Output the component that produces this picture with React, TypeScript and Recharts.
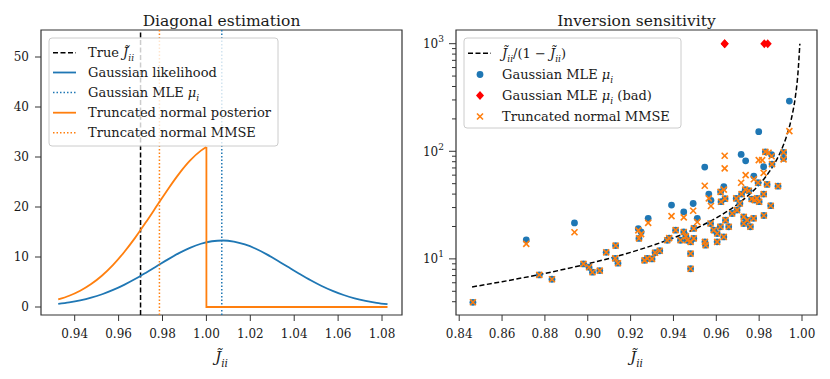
import React from 'react';
import {
  LineChart,
  ComposedChart,
  Line,
  Scatter,
  XAxis,
  YAxis,
  ReferenceLine,
  ReferenceArea,
} from 'recharts';

const FONT = '"DejaVu Serif", serif';
const FRAME = '#333333';
const TEXT = '#1a1a1a';
const BLUE = '#1f77b4';
const ORANGE = '#ff7f0e';
const RED = '#ff0000';

// ---------------- Left panel: Diagonal estimation ----------------
const gaussX = [
  0.9325, 0.9375, 0.9425, 0.9475, 0.9525, 0.9575, 0.9625, 0.9675, 0.9725, 0.9775,
  0.9825, 0.9875, 0.9925, 0.9975, 1.0025, 1.0075, 1.0125, 1.0175, 1.0225, 1.0275,
  1.0325, 1.0375, 1.0425, 1.0475, 1.0525, 1.0575, 1.0625, 1.0675, 1.0725, 1.0775, 1.0825,
];
const gaussY = [
  0.61, 0.91, 1.32, 1.86, 2.55, 3.41, 4.43, 5.59, 6.87, 8.2,
  9.53, 10.77, 11.83, 12.65, 13.15, 13.3, 13.08, 12.51, 11.64, 10.53,
  9.27, 7.93, 6.61, 5.35, 4.21, 3.23, 2.4, 1.74, 1.23, 0.84, 0.56,
];
const posteriorX = [
  0.9325, 0.9375, 0.9425, 0.9475, 0.9525, 0.9575, 0.9625, 0.9675, 0.9725, 0.9775,
  0.9825, 0.9875, 0.9925, 0.9975, 1.0,
];
const posteriorY = [
  1.51, 2.25, 3.26, 4.6, 6.31, 8.43, 10.96, 13.82, 16.99, 20.28,
  23.57, 26.63, 29.26, 31.28, 32.0,
];
const tailX = [1.0, 1.0, 1.0825];
const tailY = [32.0, 0, 0];
const trueJ = 0.97;
const gaussianMLE = 1.007;
const truncatedMMSE = 0.9786;
const leftXTicks = [0.94, 0.96, 0.98, 1.0, 1.02, 1.04, 1.06, 1.08];
const leftYTicks = [0, 10, 20, 30, 40, 50];
const leftXDomain = [0.92465, 1.0891];
const leftYDomain = [-1.6, 55.4];

// ---------------- Right panel: Inversion sensitivity ----------------
const curveX = [
  0.846, 0.86, 0.87, 0.88, 0.89, 0.9, 0.91, 0.92, 0.93, 0.94, 0.95, 0.96, 0.97,
  0.975, 0.98, 0.985, 0.99, 0.993, 0.995, 0.997, 0.998, 0.999,
];
const curveY = [
  5.49, 6.14, 6.69, 7.33, 8.09, 9.0, 10.11, 11.5, 13.29, 15.67, 19.0, 24.0, 32.3,
  39.0, 49.0, 65.7, 99.0, 141.9, 199.0, 332.0, 499.0, 999.0,
];

const pointJ = [
  0.8464, 0.8713, 0.8774, 0.8833, 0.8938, 0.898, 0.9006, 0.9022, 0.9056, 0.9086,
  0.9128, 0.913, 0.9141, 0.9236, 0.9239, 0.9249, 0.9265, 0.9278, 0.9282, 0.93,
  0.9314, 0.9336, 0.9371, 0.938, 0.9391, 0.941, 0.9433, 0.9448, 0.9448, 0.9458,
  0.9464, 0.948, 0.948, 0.948, 0.9492, 0.9495, 0.9495, 0.9511, 0.9547, 0.955,
  0.9546, 0.9565, 0.9573, 0.9575, 0.9588, 0.9604, 0.9604, 0.9619, 0.962, 0.9622,
  0.9635, 0.9635, 0.9641, 0.9643, 0.9658, 0.9674, 0.9693, 0.9697, 0.971, 0.9716,
  0.9718, 0.9728, 0.9728, 0.9735, 0.9737, 0.9744, 0.9752, 0.9759, 0.9765, 0.9774,
  0.9775, 0.9779, 0.979, 0.9795, 0.9798, 0.98, 0.9821, 0.9821, 0.9822, 0.9829,
  0.9837, 0.9854, 0.9858, 0.986, 0.9888, 0.9914, 0.9914, 0.9941,
  0.9639, 0.9639, 0.9814, 0.9844,
];
const mleValues = [
  3.95, 15.0, 7.1, 6.47, 21.6, 8.98, 8.36, 7.52, 7.78, 11.5,
  10.1, 13.3, 9.12, 19.1, 15.5, 17.8, 9.7, 10.1, 23.8, 10.0,
  11.4, 11.9, 14.9, 15.6, 31.6, 18.5, 14.9, 17.8, 27.3, 16.2,
  14.9, 14.4, 11.2, 8.1, 32.7, 15.5, 19.2, 23.8, 14.4, 13.4,
  71.3, 40.0, 21.3, 35.0, 18.5, 17.2, 14.4, 19.9, 42.0, 34.0,
  16.0, 46.8, 36.3, 22.9, 19.9, 26.4, 36.5, 28.4, 32.7, 93.5,
  40.0, 24.6, 21.3, 44.0, 81.6, 22.9, 43.0, 19.9, 36.0, 23.8,
  58.8, 35.2, 36.5, 51.0, 152.0, 34.0, 71.8, 40.0, 25.3, 98.8,
  49.2, 31.2, 93.0, 76.0, 47.4, 97.8, 86.0, 293.0,
  null, null, null, null,
];
const mmseValues = [
  3.95, 13.8, 7.1, 6.47, 17.7, 8.98, 8.36, 7.52, 7.78, 11.5,
  10.1, 13.3, 9.12, 18.4, 15.5, 17.0, 9.7, 10.1, 21.6, 10.0,
  11.4, 11.9, 14.9, 15.6, 25.0, 18.5, 14.9, 17.8, 24.3, 16.2,
  14.9, 14.4, 11.2, 8.1, 28.0, 15.5, 19.2, 22.0, 14.4, 13.4,
  47.8, 36.5, 21.3, 31.0, 18.5, 17.2, 14.4, 19.9, 42.0, 34.0,
  16.0, 44.0, 36.3, 22.9, 19.9, 26.4, 36.5, 28.4, 32.7, 51.0,
  40.0, 24.6, 21.3, 44.0, 60.0, 22.9, 43.0, 19.9, 36.0, 23.8,
  55.0, 35.2, 36.5, 51.0, 82.8, 34.0, 63.0, 40.0, 25.3, 98.8,
  49.2, 31.2, 90.0, 76.0, 47.4, 97.8, 84.0, 154.0,
  90.8, 69.3, 82.8, 97.0,
];
const badJ = [0.9639, 0.9639, 0.9824, 0.984];
const badValues = [1000, 1000, 1000, 1000];

const rightXTicks = [0.84, 0.86, 0.88, 0.9, 0.92, 0.94, 0.96, 0.98, 1.0];
const rightYMajor = [10, 100, 1000];
const rightYMinor = [4, 5, 6, 7, 8, 9, 20, 30, 40, 50, 60, 70, 80, 90, 200, 300, 400, 500, 600, 700, 800, 900];
const rightXDomain = [0.8385, 1.007];
const rightYDomain = [3.01, 1340];

// ---------------- built tables ----------------
const gaussData = gaussX.map((x, i) => ({ x, y: gaussY[i] }));
const posteriorData = posteriorX.map((x, i) => ({ x, y: posteriorY[i] }));
const tailData = tailX.map((x, i) => ({ x, y: tailY[i] }));
const curveData = curveX.map((x, i) => ({ x, y: curveY[i] }));
const mleData = pointJ
  .map((x, i) => ({ x, y: mleValues[i] }))
  .filter((d) => d.y !== null);
const mmseData = pointJ.map((x, i) => ({ x, y: mmseValues[i] }));
const badData = badJ.map((x, i) => ({ x, y: badValues[i] }));
const rightYTicks = [...rightYMajor, ...rightYMinor].sort((a, b) => a - b);

const tickStyle = { fontSize: 12, fontFamily: FONT, fill: TEXT };
const margin = { top: 30, right: 13, left: 5, bottom: 34 };

const BlueDot = (p: any) => <circle cx={p.cx} cy={p.cy} r={3.4} fill={BLUE} />;
const OrangeX = (p: any) => (
  <g stroke={ORANGE} strokeWidth={1.6}>
    <line x1={p.cx - 3} y1={p.cy - 3} x2={p.cx + 3} y2={p.cy + 3} />
    <line x1={p.cx - 3} y1={p.cy + 3} x2={p.cx + 3} y2={p.cy - 3} />
  </g>
);
const RedDiamond = (p: any) => (
  <polygon
    points={`${p.cx},${p.cy - 4.5} ${p.cx + 4} ${p.cy} ${p.cx},${p.cy + 4.5} ${p.cx - 4},${p.cy}`.replace(' ' + (p.cx + 4) + ' ', ' ' + (p.cx + 4) + ',')}
    fill={RED}
  />
);

const LogTick = (props: any) => {
  const { x, y, payload } = props;
  const v = payload.value;
  const major = rightYMajor.includes(v);
  const len = major ? 7 : 4;
  const exp = Math.round(Math.log10(v));
  return (
    <g>
      <line x1={x} x2={x - len} y1={y} y2={y} stroke={FRAME} strokeWidth={1} />
      {major && (
        <text x={x - len - 5} y={y + 4.5} textAnchor="end" fontSize={12} fontFamily={FONT} fill={TEXT}>
          10
          <tspan dy={-6} fontSize={9}>{exp}</tspan>
        </text>
      )}
    </g>
  );
};

// J-tilde with subscript ii, as tspans
const jii = (size: number, key: string) => [
  <tspan key={key + 'J'} fontStyle="italic">{'J\u0303'}</tspan>,
  <tspan key={key + 's'} fontStyle="italic" fontSize={size * 0.7} dy={size * 0.3}>ii</tspan>,
];

const Overlay = () => {
  const ls = 13;
  const leftRows = [52.7, 72.5, 92.5, 112.7, 132.7];
  const rightRows = [53.3, 74.5, 95.5, 116.5];
  return (
    <svg
      width={830}
      height={379}
      style={{ position: 'absolute', left: 0, top: 0, pointerEvents: 'none' }}
      fontFamily={FONT}
    >
      {/* titles */}
      <text x={221.5} y={26} textAnchor="middle" fontSize={15.5} fill={TEXT}>Diagonal estimation</text>
      <text x={636.5} y={26} textAnchor="middle" fontSize={15.5} fill={TEXT}>Inversion sensitivity</text>
      {/* x labels */}
      <text x={221.5} y={362} textAnchor="middle" fontSize={15} fill={TEXT}>{jii(15, 'l')}</text>
      <text x={636.5} y={362} textAnchor="middle" fontSize={15} fill={TEXT}>{jii(15, 'r')}</text>

      {/* left legend */}
      <rect x={49} y={38} width={229} height={108} rx={3} fill="#ffffff" fillOpacity={0.8} stroke="#cccccc" />
      <line x1={53} x2={76} y1={leftRows[0]} y2={leftRows[0]} stroke="#000" strokeWidth={1.5} strokeDasharray="5 2.5" />
      <line x1={53} x2={76} y1={leftRows[1]} y2={leftRows[1]} stroke={BLUE} strokeWidth={1.8} />
      <line x1={53} x2={76} y1={leftRows[2]} y2={leftRows[2]} stroke={BLUE} strokeWidth={1.5} strokeDasharray="1.5 2" />
      <line x1={53} x2={76} y1={leftRows[3]} y2={leftRows[3]} stroke={ORANGE} strokeWidth={1.8} />
      <line x1={53} x2={76} y1={leftRows[4]} y2={leftRows[4]} stroke={ORANGE} strokeWidth={1.5} strokeDasharray="1.5 2" />
      <text x={88} y={leftRows[0] + 4.5} fontSize={ls} fill={TEXT}>
        {'True '}
        {jii(ls, 'a')}
      </text>
      <text x={88} y={leftRows[1] + 4.5} fontSize={ls} fill={TEXT}>Gaussian likelihood</text>
      <text x={88} y={leftRows[2] + 4.5} fontSize={ls} fill={TEXT}>
        {'Gaussian MLE '}
        <tspan fontStyle="italic">μ</tspan>
        <tspan fontStyle="italic" fontSize={ls * 0.7} dy={ls * 0.3}>i</tspan>
      </text>
      <text x={88} y={leftRows[3] + 4.5} fontSize={ls} fill={TEXT}>Truncated normal posterior</text>
      <text x={88} y={leftRows[4] + 4.5} fontSize={ls} fill={TEXT}>Truncated normal MMSE</text>

      {/* right legend */}
      <rect x={464} y={38} width={217} height={90} rx={3} fill="#ffffff" fillOpacity={0.8} stroke="#cccccc" />
      <line x1={468} x2={491} y1={rightRows[0]} y2={rightRows[0]} stroke="#000" strokeWidth={1.5} strokeDasharray="5 2.5" />
      <circle cx={480} cy={rightRows[1]} r={3.4} fill={BLUE} />
      <polygon points={`480,${rightRows[2] - 4.5} 484,${rightRows[2]} 480,${rightRows[2] + 4.5} 476,${rightRows[2]}`} fill={RED} />
      <g stroke={ORANGE} strokeWidth={1.6}>
        <line x1={477} y1={rightRows[3] - 3} x2={483} y2={rightRows[3] + 3} />
        <line x1={477} y1={rightRows[3] + 3} x2={483} y2={rightRows[3] - 3} />
      </g>
      <text x={502} y={rightRows[0] + 4.5} fontSize={ls} fill={TEXT}>
        {jii(ls, 'b')}
        <tspan dy={-ls * 0.3}>{'/(1 \u2212 '}</tspan>
        {jii(ls, 'c')}
        <tspan dy={-ls * 0.3}>)</tspan>
      </text>
      <text x={502} y={rightRows[1] + 4.5} fontSize={ls} fill={TEXT}>
        {'Gaussian MLE '}
        <tspan fontStyle="italic">μ</tspan>
        <tspan fontStyle="italic" fontSize={ls * 0.7} dy={ls * 0.3}>i</tspan>
      </text>
      <text x={502} y={rightRows[2] + 4.5} fontSize={ls} fill={TEXT}>
        {'Gaussian MLE '}
        <tspan fontStyle="italic">μ</tspan>
        <tspan fontStyle="italic" fontSize={ls * 0.7} dy={ls * 0.3}>i</tspan>
        <tspan dy={-ls * 0.3}>{' (bad)'}</tspan>
      </text>
      <text x={502} y={rightRows[3] + 4.5} fontSize={ls} fill={TEXT}>Truncated normal MMSE</text>
    </svg>
  );
};

export default function App() {
  return (
    <div style={{ position: 'absolute', left: 0, top: 0, width: 830, height: 379, background: '#fff' }}>
      <div style={{ position: 'absolute', left: 0, top: 0 }}>
        <LineChart width={415} height={379} margin={margin}>
          <XAxis
            type="number"
            dataKey="x"
            domain={leftXDomain}
            allowDataOverflow
            ticks={leftXTicks}
            interval={0}
            tickFormatter={(v: number) => v.toFixed(2)}
            tick={tickStyle}
            tickSize={6}
            tickMargin={8}
            tickLine={{ stroke: FRAME }}
            axisLine={false}
            height={30}
          />
          <YAxis
            type="number"
            dataKey="y"
            domain={leftYDomain}
            allowDataOverflow
            ticks={leftYTicks}
            interval={0}
            tick={tickStyle}
            tickSize={6}
            tickMargin={6}
            tickLine={{ stroke: FRAME }}
            axisLine={false}
            width={36}
          />
          <ReferenceArea
            x1={leftXDomain[0]}
            x2={leftXDomain[1]}
            y1={leftYDomain[0]}
            y2={leftYDomain[1]}
            fill="none"
            fillOpacity={0}
            stroke={FRAME}
            strokeWidth={1.2}
          />
          <ReferenceLine x={trueJ} stroke="#000" strokeWidth={1.5} strokeDasharray="5 2.5" />
          <Line data={gaussData} dataKey="y" type="monotone" stroke={BLUE} strokeWidth={1.8} dot={false} activeDot={false} isAnimationActive={false} />
          <ReferenceLine x={gaussianMLE} stroke={BLUE} strokeWidth={1.5} strokeDasharray="1.5 2" />
          <Line data={posteriorData} dataKey="y" type="monotone" stroke={ORANGE} strokeWidth={1.8} dot={false} activeDot={false} isAnimationActive={false} />
          <Line data={tailData} dataKey="y" type="linear" stroke={ORANGE} strokeWidth={1.8} dot={false} activeDot={false} isAnimationActive={false} />
          <ReferenceLine x={truncatedMMSE} stroke={ORANGE} strokeWidth={1.5} strokeDasharray="1.5 2" />
        </LineChart>
      </div>
      <div style={{ position: 'absolute', left: 415, top: 0 }}>
        <ComposedChart width={415} height={379} margin={margin}>
          <XAxis
            type="number"
            dataKey="x"
            domain={rightXDomain}
            allowDataOverflow
            ticks={rightXTicks}
            interval={0}
            tickFormatter={(v: number) => v.toFixed(2)}
            tick={tickStyle}
            tickSize={6}
            tickMargin={8}
            tickLine={{ stroke: FRAME }}
            axisLine={false}
            height={30}
          />
          <YAxis
            type="number"
            dataKey="y"
            scale="log"
            domain={rightYDomain}
            allowDataOverflow
            ticks={rightYTicks}
            interval={0}
            tick={<LogTick />}
            tickSize={0}
            tickMargin={0}
            tickLine={false}
            axisLine={false}
            width={36}
          />
          <ReferenceArea
            x1={rightXDomain[0]}
            x2={rightXDomain[1]}
            y1={rightYDomain[0]}
            y2={rightYDomain[1]}
            fill="none"
            fillOpacity={0}
            stroke={FRAME}
            strokeWidth={1.2}
          />
          <Scatter data={mleData} dataKey="y" shape={BlueDot} isAnimationActive={false} />
          <Scatter data={badData} dataKey="y" shape={RedDiamond} isAnimationActive={false} />
          <Scatter data={mmseData} dataKey="y" shape={OrangeX} isAnimationActive={false} />
          <Line data={curveData} dataKey="y" type="monotone" stroke="#000" strokeWidth={1.5} strokeDasharray="5 2.5" dot={false} activeDot={false} isAnimationActive={false} />
        </ComposedChart>
      </div>
      <Overlay />
    </div>
  );
}
